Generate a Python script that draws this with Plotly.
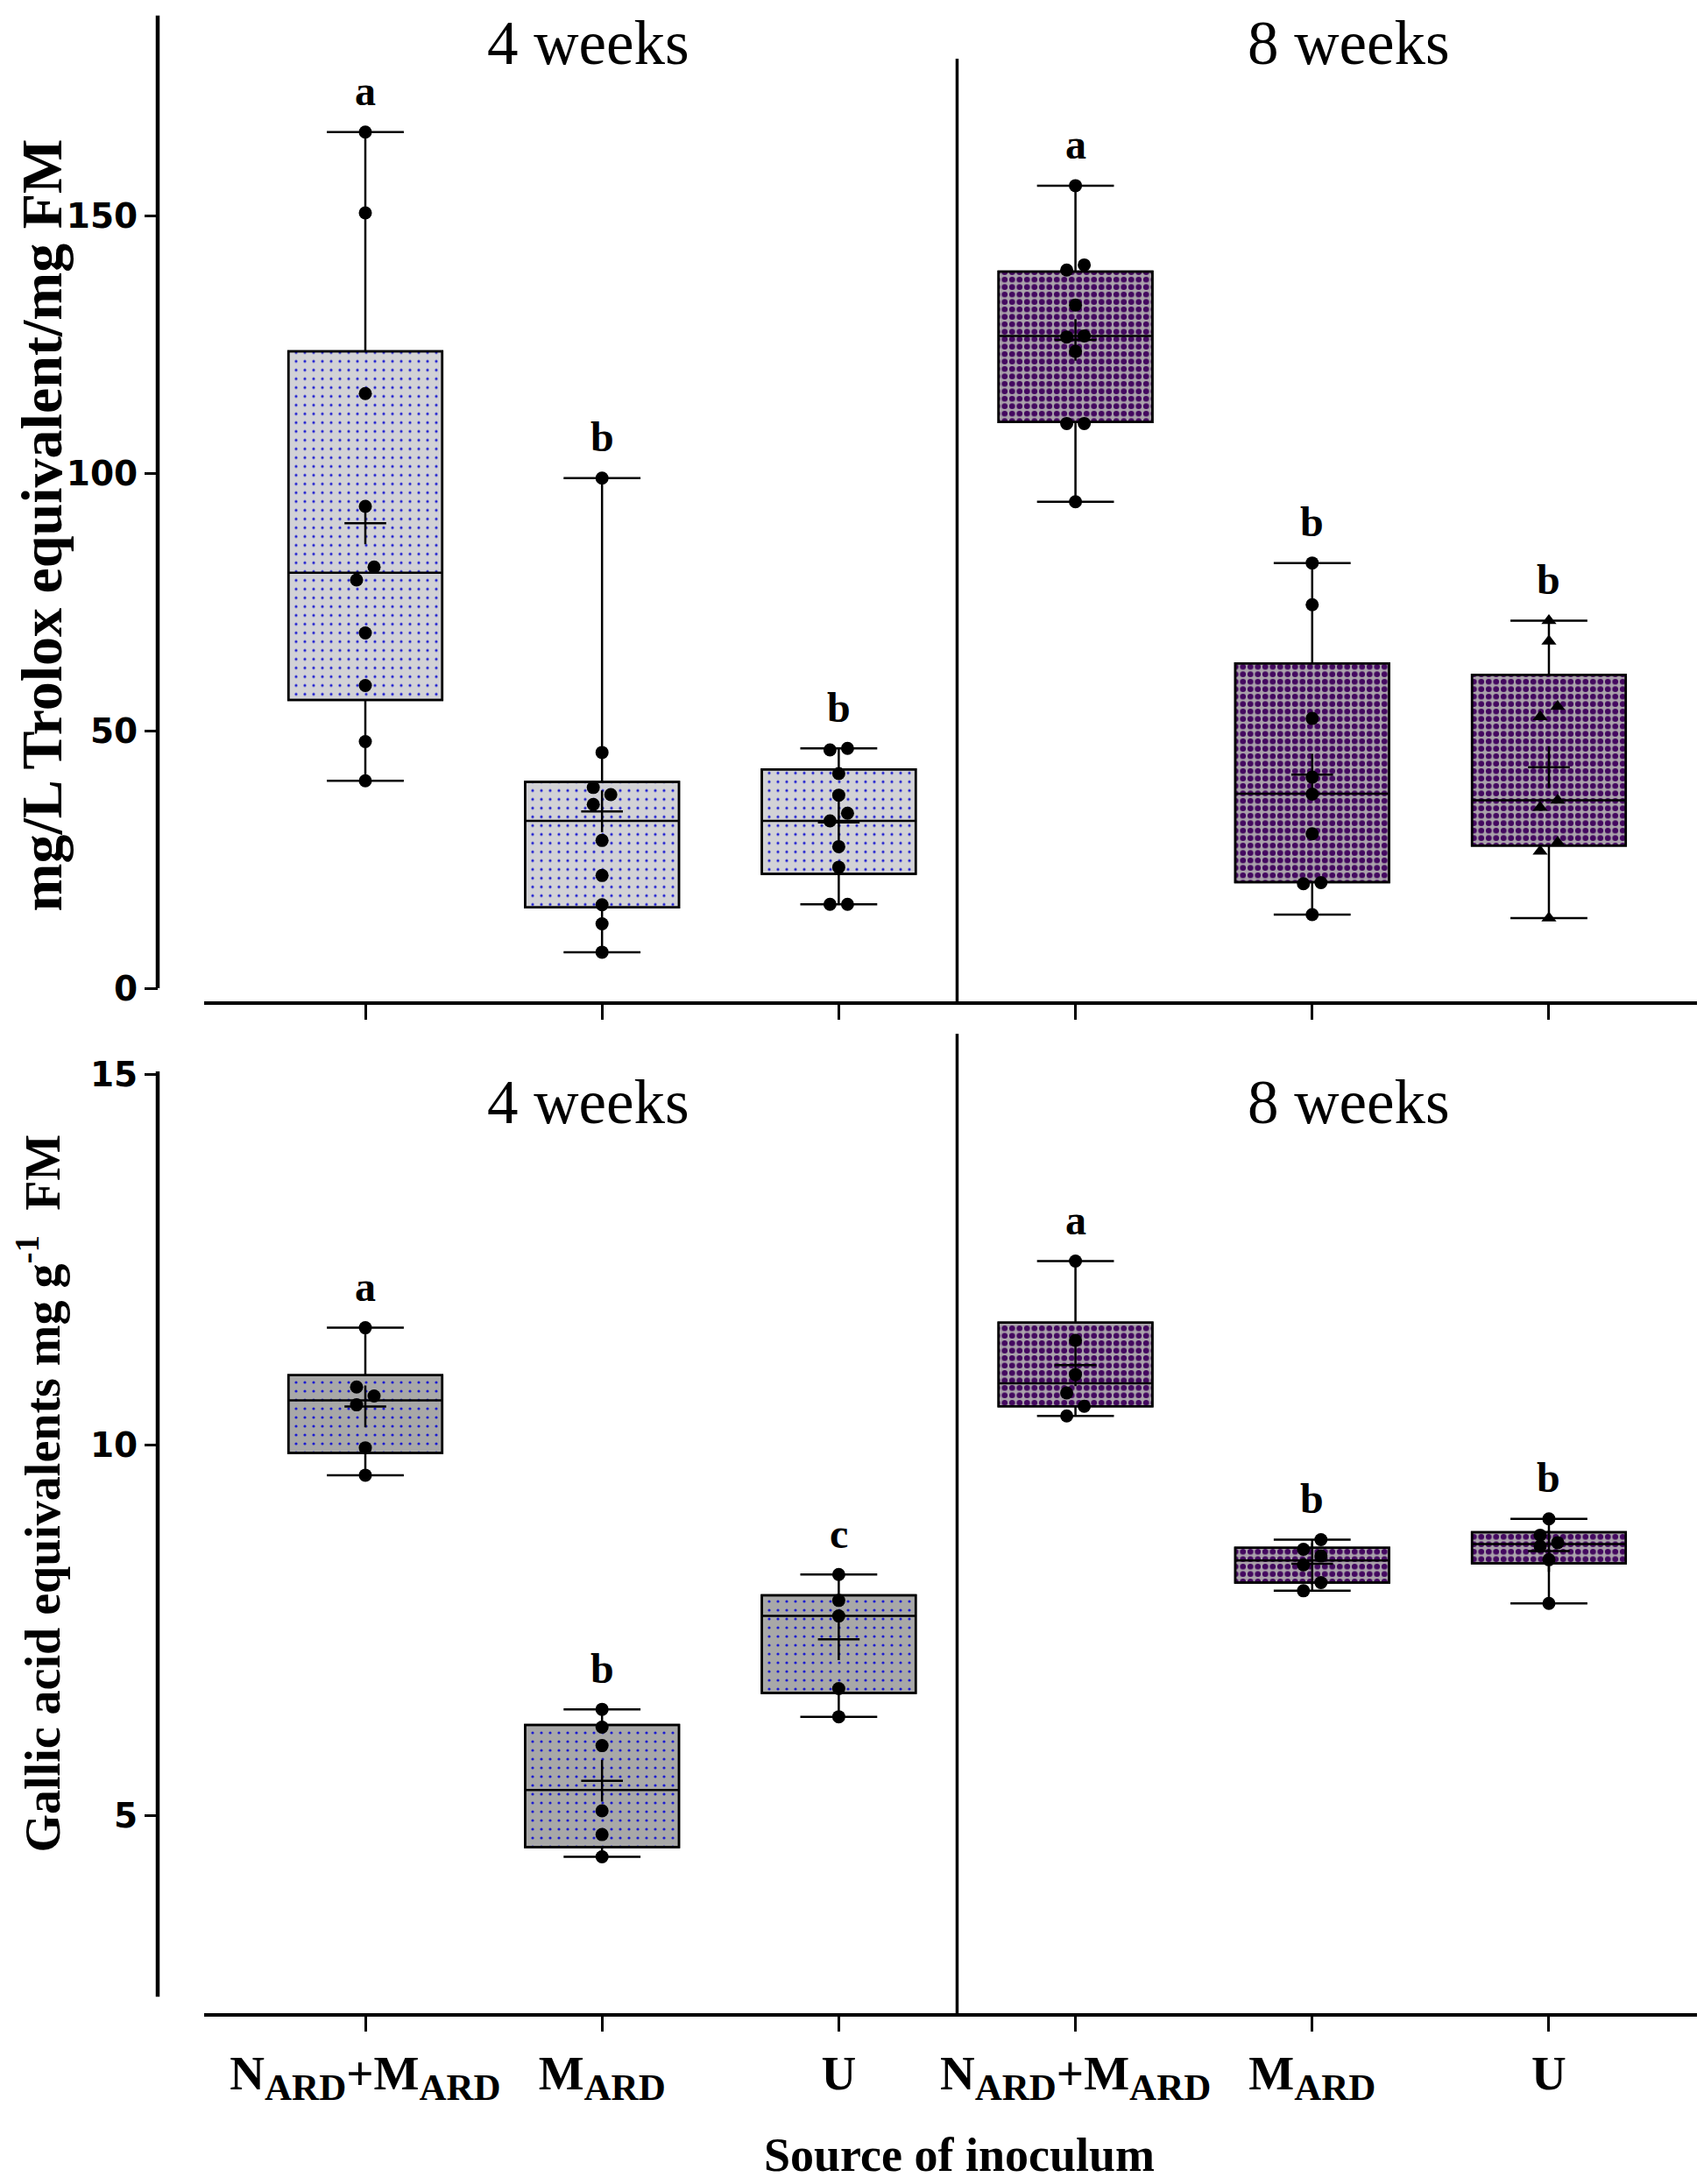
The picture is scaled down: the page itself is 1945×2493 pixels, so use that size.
import numpy as np
import plotly.graph_objects as go

W, H = 1945, 2493

# ---------------- data ----------------
SUB = "<sub><span style='font-size:43px'>ARD</span></sub>"
tick_labels = ["N" + SUB + "+M" + SUB, "M" + SUB, "U",
               "N" + SUB + "+M" + SUB, "M" + SUB, "U"]
periods = ["4 weeks", "8 weeks"]

# Top panel: mg/L Trolox equivalent / mg FM
top_4w_nm = [166.3, 150.6, 115.5, 93.6, 81.8, 79.3, 69.0, 58.8, 47.9, 40.3]
top_4w_m = [99.1, 45.8, 39.0, 37.6, 35.7, 28.7, 21.9, 16.2, 12.5, 7.0]
top_4w_u = [46.6, 46.3, 41.7, 37.5, 34.0, 32.5, 27.5, 23.5, 16.3, 16.3]
top_8w_nm = [155.9, 140.5, 139.5, 132.7, 126.7, 126.5, 123.7, 109.7, 109.7, 94.5]
top_8w_m = [82.6, 74.5, 52.4, 41.0, 37.7, 30.0, 20.5, 20.3, 14.3]
top_8w_u = [71.4, 67.4, 54.7, 52.7, 36.5, 35.1, 28.3, 26.6, 13.6]
top_q1 = [56.0, 15.7, 22.2, 110.0, 20.6, 27.7]
top_median = [80.7, 32.5, 32.5, 126.7, 37.8, 36.5]
top_q3 = [123.7, 40.1, 42.5, 139.2, 63.1, 60.9]
top_letters = ["a", "b", "b", "a", "b", "b"]

# Bottom panel: Gallic acid equivalents mg g-1 FM
bot_4w_nm = [11.58, 10.78, 10.66, 10.54, 9.96, 9.59]
bot_4w_m = [6.43, 6.19, 5.94, 5.06, 4.74, 4.44]
bot_4w_u = [8.25, 7.90, 7.69, 6.71, 6.33]
bot_8w_nm = [12.48, 11.41, 10.95, 10.70, 10.52, 10.39]
bot_8w_m = [8.72, 8.59, 8.50, 8.38, 8.14, 8.03]
bot_8w_u = [9.00, 8.78, 8.68, 8.63, 8.45, 7.86]
bot_q1 = [9.89, 4.57, 6.65, 10.52, 8.14, 8.40]
bot_median = [10.60, 5.34, 7.69, 10.83, 8.44, 8.66]
bot_q3 = [10.94, 6.22, 7.97, 11.65, 8.61, 8.82]
bot_letters = ["a", "b", "c", "a", "b", "b"]

top_groups = [top_4w_nm, top_4w_m, top_4w_u, top_8w_nm, top_8w_m, top_8w_u]
bot_groups = [bot_4w_nm, bot_4w_m, bot_4w_u, bot_8w_nm, bot_8w_m, bot_8w_u]
top_symbols = ["circle"] * 5 + ["triangle-up"]
bot_symbols = ["circle"] * 6

# ---------------- layout helpers ----------------
OFF = 8  # page offset of the figure (body margin)

def py(pix):  # page pixel row -> paper y
    return 1 - (pix - OFF) / H

def px(pix):  # page pixel col -> paper x
    return (pix - OFF) / W

XDOM = [px(233), px(1939)]
XRANGE = [-0.681, 5.633]
TOP_DOM = [py(1143), py(17.4)]
TOP_RANGE = [-2.55, 189]
BOT_DOM = [py(2298), py(1223)]
BOT_RANGE = [2.329, 15.04]
YPOS = px(180)

positions = list(range(6))
BOXW = 0.65

# colours / patterns
light_bg, dark_bg, dot_fg = "#d2d2d6", "#a8a8a8", "#1b1bd0"
check_dark, check_light = "#43085f", "#aaa2ab"

def swarm(vals, base, thresh, dx):
    n = len(vals)
    order = sorted(range(n), key=lambda i: vals[i])
    clusters, cur = [], [order[0]]
    for i in order[1:]:
        if vals[i] - vals[cur[-1]] < thresh:
            cur.append(i)
        else:
            clusters.append(cur)
            cur = [i]
    clusters.append(cur)
    xs = [base] * n
    for c in clusters:
        if len(c) > 1:
            for k, i in enumerate(c):
                xs[i] = base + (-dx / 2 if k % 2 == 0 else dx / 2)
    return xs

fig = go.Figure()

def add_panel(groups, q1, med, q3, symbols, letters, xa, ya, bg4, thresh):
    for sl, bg, fg, sz, sol in [(slice(0, 3), bg4, dot_fg, 10, 0.08),
                                (slice(3, 6), check_light, check_dark, 8.5, 0.5)]:
        qq1 = q1[sl]
        qq3 = q3[sl]
        fig.add_trace(go.Bar(
            x=positions[sl], y=[b - a for a, b in zip(qq1, qq3)], base=qq1,
            width=BOXW, xaxis=xa, yaxis=ya, showlegend=False, hoverinfo="skip",
            marker=dict(color=bg, line=dict(color="black", width=2.5),
                        pattern=dict(shape=".", bgcolor=bg, fgcolor=fg,
                                     fgopacity=1, size=sz, solidity=sol))))
    fig.add_trace(go.Box(
        x=positions, q1=q1, median=med, q3=q3,
        lowerfence=[min(g) for g in groups], upperfence=[max(g) for g in groups],
        orientation="v", width=BOXW, whiskerwidth=0.5, boxpoints=False,
        fillcolor="rgba(0,0,0,0)", line=dict(color="black", width=2.5),
        xaxis=xa, yaxis=ya, showlegend=False, hoverinfo="skip"))
    for i, g in enumerate(groups):
        fig.add_trace(go.Scatter(
            x=swarm(g, positions[i], thresh, 0.074), y=g, mode="markers",
            marker=dict(symbol=symbols[i], size=15, color="black"),
            xaxis=xa, yaxis=ya, showlegend=False, hoverinfo="skip"))
    fig.add_trace(go.Scatter(
        x=positions, y=[float(np.mean(g)) for g in groups], mode="markers",
        marker=dict(symbol="cross-thin", size=34, line=dict(color="black", width=2.5)),
        xaxis=xa, yaxis=ya, showlegend=False, hoverinfo="skip"))
    for i, g in enumerate(groups):
        fig.add_annotation(x=positions[i], y=max(g), xref=xa, yref=ya, text=letters[i],
                           showarrow=False, yshift=47, yanchor="middle",
                           font=dict(family="Liberation Serif", size=48, color="black",
                                     weight="bold"))

add_panel(top_groups, top_q1, top_median, top_q3, top_symbols, top_letters,
          "x", "y", light_bg, 2.55)
add_panel(bot_groups, bot_q1, bot_median, bot_q3, bot_symbols, bot_letters,
          "x2", "y2", dark_bg, 0.18)

xcommon = dict(range=XRANGE, domain=XDOM, showgrid=False, zeroline=False,
               showline=True, linecolor="black", linewidth=4, automargin=False,
               ticks="outside", ticklen=17, tickwidth=3, tickcolor="black",
               tickmode="array", tickvals=positions)
ycommon = dict(showgrid=False, zeroline=False, showline=False, anchor="free",
               position=YPOS, ticks="outside", ticklen=15, tickwidth=3,
               tickcolor="black", automargin=False,
               tickfont=dict(family="DejaVu Sans", size=39, color="black", weight="bold"))

fig.update_layout(
    width=W, height=H, autosize=False,
    margin=dict(l=0, r=0, t=0, b=0, pad=0, autoexpand=False),
    paper_bgcolor="white", plot_bgcolor="white", barmode="overlay", showlegend=False,
    xaxis=dict(**xcommon, anchor="y", showticklabels=False),
    yaxis=dict(**ycommon, range=TOP_RANGE, domain=TOP_DOM, tickvals=[0, 50, 100, 150]),
    xaxis2=dict(**xcommon, anchor="y2", ticktext=tick_labels,
                tickfont=dict(family="Liberation Serif", size=55, color="black",
                              weight="bold")),
    yaxis2=dict(**ycommon, range=BOT_RANGE, domain=BOT_DOM, tickvals=[5, 10, 15]),
)

# y-axis lines
fig.add_shape(type="line", xref="paper", yref="y", x0=YPOS, x1=YPOS, y0=0, y1=TOP_RANGE[1],
              line=dict(color="black", width=4.5))
fig.add_shape(type="line", xref="paper", yref="y2", x0=YPOS, x1=YPOS, y0=2.55, y1=BOT_RANGE[1],
              line=dict(color="black", width=4.5))
# dividers between periods
fig.add_shape(type="line", xref="x", yref="paper", x0=2.5, x1=2.5, y0=py(1143), y1=py(67),
              line=dict(color="black", width=3.5))
fig.add_shape(type="line", xref="x2", yref="paper", x0=2.5, x1=2.5, y0=py(2298), y1=py(1180),
              line=dict(color="black", width=3.5))

# period labels
for lbl, xpix in zip(periods, [671, 1539]):
    fig.add_annotation(x=px(xpix), y=1, xref="paper", yref="paper", text=lbl,
                       showarrow=False, xanchor="center", yanchor="top",
                       font=dict(family="Liberation Serif", size=71, color="black"))
    fig.add_annotation(x=px(xpix), y=py(1258), xref="paper", yref="paper", text=lbl,
                       showarrow=False, xanchor="center", yanchor="middle",
                       font=dict(family="Liberation Serif", size=71, color="black"))

# axis titles
fig.add_annotation(x=0, y=py(600), xref="paper", yref="paper",
                   text="mg/L Trolox equivalent/mg FM", textangle=-90, showarrow=False,
                   xanchor="left", yanchor="middle",
                   font=dict(family="Liberation Serif", size=66, color="black", weight="bold"))
fig.add_annotation(x=0, y=py(1705), xref="paper", yref="paper",
                   text="Gallic acid equivalents mg g<sup>-1</sup>  FM", textangle=-90,
                   showarrow=False, xanchor="left", yanchor="middle",
                   font=dict(family="Liberation Serif", size=56, color="black", weight="bold"))
fig.add_annotation(x=px(1095), y=py(2492), xref="paper", yref="paper",
                   text="Source of inoculum", showarrow=False,
                   xanchor="center", yanchor="bottom",
                   font=dict(family="Liberation Serif", size=54, color="black", weight="bold"))

fig.write_html("out.html")
